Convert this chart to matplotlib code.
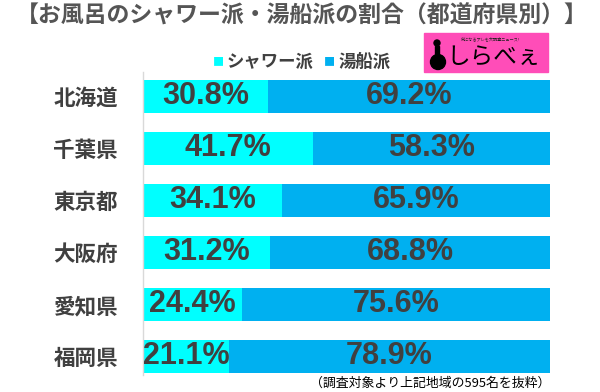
import matplotlib.pyplot as plt
import matplotlib.patches as mpatches
import numpy as np

plt.rcParams['font.family'] = ['Noto Sans CJK JP', 'DejaVu Sans']

prefs = ['北海道', '千葉県', '東京都', '大阪府', '愛知県', '福岡県']
shower = [30.8, 41.7, 34.1, 31.2, 24.4, 21.1]
bath = [69.2, 58.3, 65.9, 68.8, 75.6, 78.9]

c_shower = '#00FFFF'
c_bath = '#00B0F0'
txt = '#404040'

fig = plt.figure(figsize=(6, 3.92), dpi=100)
ax = fig.add_axes([143/600, 1 - 375/392, 407/600, 303/392])

y = np.arange(len(prefs))
ax.barh(y, shower, height=0.635, color=c_shower)
ax.barh(y, bath, left=shower, height=0.635, color=c_bath)

for i in range(len(prefs)):
    ax.text(shower[i] / 2, i, f'{shower[i]}%', ha='center', va='center',
            fontsize=22, fontweight='bold', color=txt, family='Liberation Sans')
    ax.text(shower[i] + bath[i] / 2, i, f'{bath[i]}%', ha='center', va='center',
            fontsize=22, fontweight='bold', color=txt, family='Liberation Sans')

ax.set_xlim(0, 100)
ax.set_ylim(5.356, -0.471)
ax.set_yticks(y)
ax.set_yticklabels(prefs, fontsize=15.5, fontweight='bold', color=txt)
ax.tick_params(axis='y', length=0, pad=18)
ax.set_xticks([])
for s in ['top', 'right', 'bottom']:
    ax.spines[s].set_visible(False)
ax.spines['left'].set_color('#d9d9d9')
ax.spines['left'].set_linewidth(1)

# title
fig.text(0.503, 1 - 16.5/392, '【お風呂のシャワー派・湯船派の割合（都道府県別）】',
         ha='center', va='center', fontsize=16.5, fontweight='bold', color='#555555')

# legend
ly = 1 - 62/392
fig.text(213/600, ly, '■', ha='left', va='center', fontsize=8, color=c_shower)
fig.text(227/600, ly, 'シャワー派', ha='left', va='center', fontsize=12.5,
         fontweight='bold', color=txt)
fig.text(324/600, ly, '■', ha='left', va='center', fontsize=8, color=c_bath)
fig.text(338/600, ly, '湯船派', ha='left', va='center', fontsize=12.5,
         fontweight='bold', color=txt)

# logo
logo = mpatches.Rectangle((424/600, 1 - 72/392), 124/600, 39/392,
                          transform=fig.transFigure, color='#FF4DB8', zorder=5)
fig.patches.append(logo)
fig.text(490/600, 1 - 39/392, '気になるアレを大調査ニュース!', ha='center', va='center',
         fontsize=3, color='#222222', zorder=6)
fig.patches.append(mpatches.Ellipse((438/600, 1 - 62/392), 15/600, 15/392,
                                    transform=fig.transFigure, color='black', zorder=6))
fig.patches.append(mpatches.Rectangle((435/600, 1 - 58/392), 4/600, 12/392,
                                      transform=fig.transFigure, color='black', zorder=6))
fig.patches.append(mpatches.Ellipse((437/600, 1 - 43/392), 6/600, 6/392,
                                    transform=fig.transFigure, color='black', zorder=6))
fig.text(494/600, 1 - 58/392, 'しらべぇ', ha='center', va='center',
         fontsize=17, color='black', zorder=6)

# footnote
fig.text(310/600, 1 - 383/392, '（調査対象より上記地域の595名を抜粋）',
         ha='left', va='center', fontsize=9.3, color='black')

fig.savefig('out.png', dpi=100, facecolor='white')
